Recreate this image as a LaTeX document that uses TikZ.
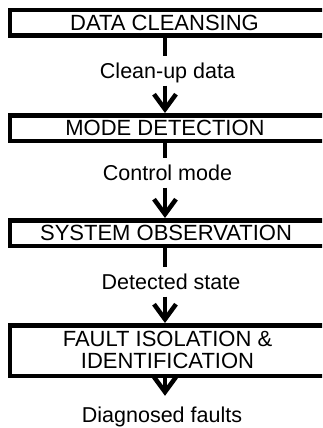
\documentclass[tikz,border=0pt]{standalone}
\usepackage{fontspec}
\setmainfont{Liberation Sans}
\usetikzlibrary{arrows.meta,calc}
\begin{document}
\begin{tikzpicture}[x=1pt,y=1pt,
  font=\fontsize{21.5pt}{22pt}\selectfont,
  box/.style={draw=black, line width=4.5pt, fill=white, inner sep=0pt,
    minimum width=334.75pt},
  boxtext/.style={inner sep=0pt, align=center, font=\fontsize{22pt}{22pt}\selectfont},
  lbl/.style={anchor=base, inner xsep=0pt, inner ysep=3pt, text height=19pt, text depth=4.5pt},
  conn/.style={line width=4.5pt, line cap=butt},
  arr/.style={conn, -{Straight Barb[length=15pt,width=22pt]}}]
\useasboundingbox (0,0) rectangle (322,-428);
\fill[white] (0,0) rectangle (322,-428);
\clip (0,0) rectangle (322,-428);
\coordinate (ax) at (165,0);
\node[box, minimum height=25.5pt] (b1) at (177.6,-23) {};
\node[box, minimum height=25.5pt] (b2) at (177.6,-128) {};
\node[box, minimum height=25.5pt] (b3) at (177.6,-233) {};
\node[box, minimum height=50.5pt] (b4) at (177.6,-350.5) {};
\node[boxtext] (t1) at (164.5,-23) {DATA CLEANSING};
\node[boxtext] (t2) at (165,-128) {MODE DETECTION};
\node[boxtext] (t3) at (166,-233) {SYSTEM OBSERVATION};
\node[boxtext] (t4) at (167.5,-349.5) {FAULT ISOLATION \&\\IDENTIFICATION};
\node[lbl] (l1) at (167.5,-78) {Clean-up data};
\node[lbl] (l2) at (167.5,-180) {Control mode};
\node[lbl] (l3) at (171,-289) {Detected state};
\node[lbl] (l4) at (162,-422) {Diagnosed faults};
\draw[conn] (b1.south -| ax) -- (l1.north -| ax);
\draw[arr] (l1.south -| ax) -- (b2.north -| ax);
\draw[conn] (b2.south -| ax) -- (l2.north -| ax);
\draw[arr] (l2.south -| ax) -- (b3.north -| ax);
\draw[conn] (b3.south -| ax) -- (l3.north -| ax);
\draw[arr] (l3.south -| ax) -- (b4.north -| ax);
\draw[arr, shorten >=4pt] (b4.south -| ax) -- (l4.north -| ax);
\end{tikzpicture}
\end{document}
